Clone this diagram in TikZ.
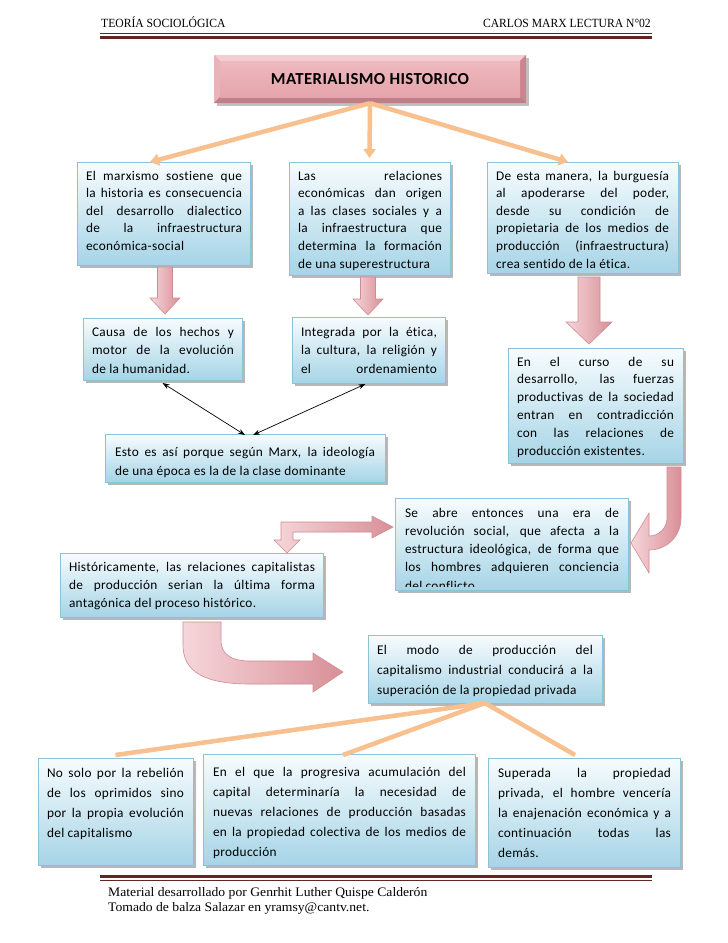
\documentclass[tikz,border=0pt]{standalone}
\usepackage{fontspec}
\setmainfont{Carlito}[LetterSpace=2.5,Ligatures=NoCommon]
\newfontfamily\hdrfont{Liberation Serif}[FakeStretch=0.93]
\newfontfamily\ftfont{Liberation Serif}[FakeStretch=1.05]
\usetikzlibrary{shadows,arrows.meta,calc}
\definecolor{orangeC}{HTML}{F8C08E}
\definecolor{boxtop}{HTML}{F7FCFE}
\definecolor{boxbot}{HTML}{A6D4E6}
\definecolor{boxborder}{HTML}{8CC2D8}
\definecolor{pinkL}{HTML}{F5D6DA}
\definecolor{pinkR}{HTML}{D98F97}
\definecolor{pinkB}{HTML}{CF8C93}
\definecolor{maroonC}{HTML}{632523}
\definecolor{ttop}{HTML}{EDB9BF}
\definecolor{tmid}{HTML}{FBE6E9}
\definecolor{tbot}{HTML}{E5A4AB}
\definecolor{bevT}{HTML}{F2CDD1}
\definecolor{bevL}{HTML}{E8B3B9}
\definecolor{bevR}{HTML}{C8868E}
\definecolor{bevB}{HTML}{BF7F87}
\newlength\jw
\newcommand\JL[1]{\makebox[\jw][s]{\strut #1}}
\newcommand\pinkdown[6]{%
  \path[pinkarrow] ({#1-#4},#2) -- ({#1+#4},#2) -- ({#1+#4},{#3-#6}) -- ({#1+#5},{#3-#6}) -- (#1,#3) -- ({#1-#5},{#3-#6}) -- ({#1-#4},{#3-#6}) -- cycle;}
\tikzset{
  bluebox/.style={draw=boxborder, line width=0.6pt, top color=boxtop, bottom color=boxbot,
    inner sep=0pt, outer sep=0pt, anchor=north west,
    drop shadow={shadow xshift=2.5pt, shadow yshift=-2.5pt, fill=black!40, opacity=0.7}},
  boxtxt/.style={anchor=north west, inner sep=0pt, outer sep=0pt, align=left,
    execute at begin node={\setlength\jw{#1pt}}},
  fs/.style={font=\fontsize{13.3}{#1}\selectfont},
  pinkarrow/.style={draw=pinkB, line width=0.6pt, left color=pinkL, right color=pinkR},
  oconn/.style={draw=orangeC, line width=4.5pt, -{Triangle[width=12pt,length=9pt]}},
  oline/.style={draw=orangeC, line width=4.5pt},
  dbl/.style={draw=black, line width=0.7pt, {Stealth[length=7pt,width=5pt]}-{Stealth[length=7pt,width=5pt]}},
  titlebox/.style={minimum width=312pt, minimum height=48pt, inner sep=0pt, fill=bevR,
    font=\bfseries\fontsize{16.8}{19}\selectfont,
    drop shadow={shadow xshift=2.5pt, shadow yshift=-2.5pt, fill=black!35, opacity=0.7},
    path picture={
      \fill[bevT] (path picture bounding box.north west) -- (path picture bounding box.north east)
        -- ([shift={(-6pt,-6pt)}]path picture bounding box.north east)
        -- ([shift={(6pt,-6pt)}]path picture bounding box.north west) -- cycle;
      \fill[bevL] (path picture bounding box.north west) -- ([shift={(6pt,-6pt)}]path picture bounding box.north west)
        -- ([shift={(6pt,6pt)}]path picture bounding box.south west) -- (path picture bounding box.south west) -- cycle;
      \fill[bevR] (path picture bounding box.north east) -- ([shift={(-6pt,-6pt)}]path picture bounding box.north east)
        -- ([shift={(-6pt,6pt)}]path picture bounding box.south east) -- (path picture bounding box.south east) -- cycle;
      \fill[bevB] (path picture bounding box.south west) -- ([shift={(6pt,6pt)}]path picture bounding box.south west)
        -- ([shift={(-6pt,6pt)}]path picture bounding box.south east) -- (path picture bounding box.south east) -- cycle;
      \shade[top color=ttop, middle color=tmid, bottom color=tbot]
        ([shift={(6pt,-6pt)}]path picture bounding box.north west) rectangle
        ([shift={(-6pt,6pt)}]path picture bounding box.south east);
    }},
}
\begin{document}
\begin{tikzpicture}[x=1pt,y=-1pt]
\fill[white] (0,0) rectangle (728,943);
\useasboundingbox (0,0) rectangle (728,943);

% header
\node[anchor=base west, inner sep=0pt, font=\hdrfont\fontsize{12.5}{14}\selectfont] (hleft) at (101,27) {TEORÍA SOCIOLÓGICA};
\node[anchor=base east, inner sep=0pt, font=\hdrfont\fontsize{12.5}{14}\selectfont] (hright) at (651,27) {CARLOS MARX LECTURA N°02};
\draw[maroonC, line width=1pt] (100,33.5) -- (652,33.5);
\draw[maroonC, line width=3.5pt] (100,37.5) -- (652,37.5);

% title
\node[titlebox] (title) at (370,79) {MATERIALISMO HISTORICO};

% boxes
\node[bluebox, minimum width=173pt, minimum height=103pt] (b1) at (77,162) {};
\node[bluebox, minimum width=161pt, minimum height=113pt] (b2) at (289,162) {};
\node[bluebox, minimum width=191pt, minimum height=111pt] (b3) at (487,162) {};
\node[bluebox, minimum width=159pt, minimum height=62pt] (b4) at (83,318) {};
\node[bluebox, minimum width=153pt, minimum height=66pt] (b5) at (292,317) {};
\node[bluebox, minimum width=175pt, minimum height=115pt] (b6) at (508,348) {};
\node[bluebox, minimum width=280pt, minimum height=48pt] (b7) at (105,434) {};
\node[bluebox, minimum width=233pt, minimum height=92pt] (b8) at (395,498) {};
\node[bluebox, minimum width=263pt, minimum height=64pt] (b9) at (60,553) {};
\node[bluebox, minimum width=234pt, minimum height=68pt] (b10) at (368,635) {};
\node[bluebox, minimum width=155pt, minimum height=107pt] (b11) at (38,758) {};
\node[bluebox, minimum width=272pt, minimum height=111pt] (b12) at (203,754) {};
\node[bluebox, minimum width=192pt, minimum height=109pt] (b13) at (488,758) {};

% texts
\node[boxtxt=156, fs=17.6] (t1) at (86,{180-12.32}) {\JL{El marxismo sostiene que}\\\JL{la historia es consecuencia}\\\JL{del desarrollo dialectico}\\\JL{de la infraestructura}\\\strut económica-social};
\node[boxtxt=144, fs=17.6] (t2) at (298,{180-12.32}) {\JL{Las relaciones}\\\JL{económicas dan origen}\\\JL{a las clases sociales y a}\\\JL{la infraestructura que}\\\JL{determina la formación}\\\strut de una superestructura};
\node[boxtxt=173, fs=17.6] (t3) at (496,{180-12.32}) {\JL{De esta manera, la burguesía}\\\JL{al apoderarse del poder,}\\\JL{desde su condición de}\\\JL{propietaria de los medios de}\\\JL{producción (infraestructura)}\\\strut crea sentido de la ética.};
\node[boxtxt=142, fs=18.5] (t4) at (92,{336-12.95}) {\JL{Causa de los hechos y}\\\JL{motor de la evolución}\\\strut de la humanidad.};
\node[boxtxt=136, fs=18.5] (t5) at (301,{336-12.95}) {\JL{Integrada por la ética,}\\\JL{la cultura, la religión y}\\\JL{el ordenamiento}};
\node[boxtxt=157, fs=17.8] (t6) at (517,{366-12.46}) {\JL{En el curso de su}\\\JL{desarrollo, las fuerzas}\\\JL{productivas de la sociedad}\\\JL{entran en contradicción}\\\JL{con las relaciones de}\\\strut producción existentes.};
\node[boxtxt=260, fs=19.5] (t7) at (115,{456-13.65}) {\JL{Esto es así porque según Marx, la ideología}\\\strut de una época es la de la clase dominante};
\begin{scope}
\clip (b8.north west) rectangle ([yshift=3.5pt]b8.south east);
\node[boxtxt=214, fs=18.25] (t8) at (405,{517-12.78}) {\JL{Se abre entonces una era de}\\\JL{revolución social, que afecta a la}\\\JL{estructura ideológica, de forma que}\\\JL{los hombres adquieren conciencia}\\\strut del conflicto.};
\end{scope}
\node[boxtxt=246, fs=18] (t9) at (69,{571-12.6}) {\JL{Históricamente, las relaciones capitalistas}\\\JL{de producción serian la última forma}\\\strut antagónica del proceso histórico.};
\node[boxtxt=216, fs=20] (t10) at (377,{654-14}) {\JL{El modo de producción del}\\\JL{capitalismo industrial conducirá a la}\\\strut superación de la propiedad privada};
\node[boxtxt=137, fs=20] (t11) at (47,{777-14}) {\JL{No solo por la rebelión}\\\JL{de los oprimidos sino}\\\JL{por la propia evolución}\\\strut del capitalismo};
\node[boxtxt=253, fs=20] (t12) at (213,{776-14}) {\JL{En el que la progresiva acumulación del}\\\JL{capital determinaría la necesidad de}\\\JL{nuevas relaciones de producción basadas}\\\JL{en la propiedad colectiva de los medios de}\\\strut producción};
\node[boxtxt=173, fs=20] (t13) at (498,{777-14}) {\JL{Superada la propiedad}\\\JL{privada, el hombre vencería}\\\JL{la enajenación económica y a}\\\JL{continuación todas las}\\\strut demás.};

% orange connectors
\draw[oconn] (title.south) -- ([xshift=-13.5pt]b1.north);
\draw[oconn] (title.south) -- ([yshift=4pt]b2.north);
\draw[oconn] (title.south) -- ([xshift=-14.5pt]b3.north);
\draw[oline] (b10.south) -- ([yshift=3pt]b11.north);
\draw[oline] (b10.south) -- ([xshift=4pt,yshift=-1pt]b12.north);
\draw[oline] (b10.south) -- ([xshift=-9pt,yshift=3pt]b13.north);

% black double arrows
\draw[dbl] ([yshift=-3pt]b4.south) -- ([yshift=-1pt]b7.north);
\draw[dbl] ([xshift=-3pt,yshift=-1pt]b5.south) -- ([xshift=8pt,yshift=-1pt]b7.north);

% pink block arrows
\pinkdown{165}{267}{314}{7.5}{15}{16}
\pinkdown{368}{277}{315}{7.5}{15}{16}
\pinkdown{589}{277}{344}{11}{23}{22}
\path[pinkarrow] (667,467) -- (681,467) -- (681,518) .. controls (681,536) and (667,550) .. (649,550) -- (649,573) -- (631,543) -- (649,513) -- (649,536) .. controls (659,536) and (667,528) .. (667,518) -- cycle;
\path[pinkarrow] (281,522) -- (372,522) -- (372,516) -- (393,527) -- (372,538) -- (372,532) -- (293,532) -- (293,540) -- (300,540) -- (287,553) -- (274,540) -- (281,540) -- cycle;
\path[pinkarrow] (183,622) -- (221,622) -- (221,640) .. controls (221,655) and (232,661) .. (250,661) -- (313,661) -- (313,653) -- (343,672) -- (313,692) -- (313,684) -- (250,684) .. controls (205,684) and (183,672) .. (183,645) -- cycle;

% footer
\draw[maroonC, line width=3.5pt] (100,876.5) -- (652,876.5);
\draw[maroonC, line width=0.8pt] (100,880.5) -- (652,880.5);
\node[anchor=base west, inner sep=0pt, font=\ftfont\fontsize{13}{15}\selectfont] (foot1) at (108,896) {Material desarrollado por Genrhit Luther Quispe Calderón};
\node[anchor=base west, inner sep=0pt, font=\ftfont\fontsize{13}{15}\selectfont] (foot2) at (108,911) {Tomado de balza Salazar en yramsy@cantv.net.};
\end{tikzpicture}
\end{document}
